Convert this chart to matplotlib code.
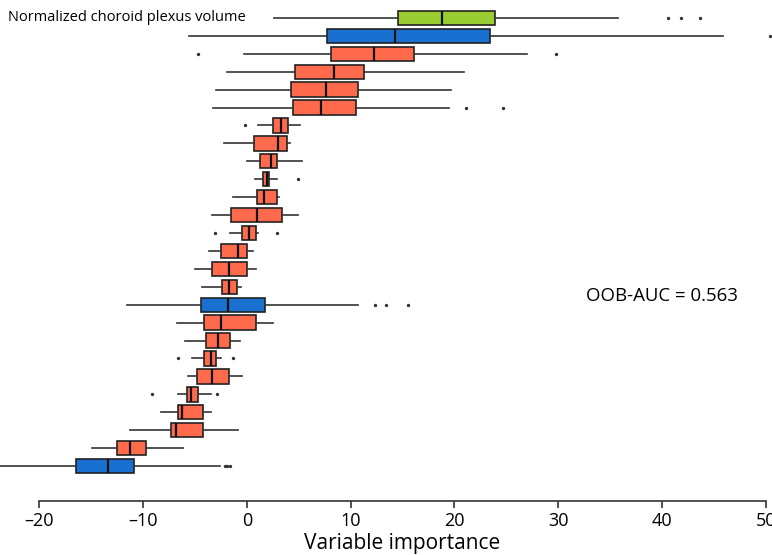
import matplotlib
matplotlib.use("Agg")
import matplotlib.pyplot as plt
import matplotlib.transforms as mtransforms

# box stats per row, top to bottom: whisker low, q1, median, q3, whisker high
whislo = [2.6, -5.6, -0.3, -1.9, -3.0, -3.3, 1.1, -2.2, 0.0, 0.8, -1.35, -3.35, -1.6,
          -3.7, -5.0, -4.3, -11.6, -6.75, -6.0, -5.25, -5.7, -6.6, -8.3, -11.3, -14.9, -23.8]
q1 = [14.6, 7.7, 8.1, 4.6, 4.2, 4.4, 2.5, 0.7, 1.25, 1.5, 0.95, -1.55, -0.45,
      -2.5, -3.35, -2.4, -4.45, -4.1, -3.95, -4.1, -4.8, -5.8, -6.6, -7.35, -12.55, -16.5]
med = [18.8, 14.3, 12.2, 8.4, 7.6, 7.1, 3.25, 3.0, 2.35, 1.9, 1.65, 1.0, 0.15,
       -0.9, -1.75, -1.7, -1.85, -2.5, -2.75, -3.45, -3.4, -5.4, -6.3, -6.8, -11.3, -13.4]
q3 = [23.9, 23.4, 16.1, 11.3, 10.7, 10.5, 4.0, 3.9, 2.85, 2.15, 2.9, 3.4, 0.85,
      0.0, 0.0, -1.0, 1.7, 0.85, -1.65, -3.0, -1.75, -4.75, -4.25, -4.25, -9.7, -10.85]
whishi = [35.8, 45.9, 27.0, 20.9, 19.7, 19.5, 5.1, 4.1, 5.3, 2.9, 3.1, 4.95, 1.1,
          0.55, 0.85, -0.6, 10.7, 2.55, -0.7, -2.5, -0.5, -3.45, -3.45, -0.9, -6.2, -2.6]
fliers = [[40.6, 41.8, 43.7], [50.4], [-4.75, 29.8], [], [], [21.1, 24.7],
          [-0.15], [], [], [4.9], [], [], [-3.05, 2.9],
          [], [], [], [12.3, 13.4, 15.5], [], [], [-6.65, -1.3], [],
          [-9.15, -2.9], [], [], [], [-2.1, -1.9, -1.65]]
groups = ["g", "b"] + ["r"] * 14 + ["b"] + ["r"] * 8 + ["b"]

colors = {"g": "#9ACD32", "b": "#1A70D0", "r": "#FF6A4D"}
top_label = "Normalized choroid plexus volume"
auc_text = "OOB-AUC = 0.563"

plt.rcParams['font.family'] = ['Open Sans', 'DejaVu Sans']

fig = plt.figure(figsize=(7.72, 5.55), dpi=100)
ax = fig.add_axes([0, 54 / 555, 1, 1 - 54 / 555])

stats = []
for i in range(len(med)):
    stats.append({"whislo": whislo[i], "q1": q1[i], "med": med[i],
                  "q3": q3[i], "whishi": whishi[i], "fliers": fliers[i]})

positions = list(range(1, len(med) + 1))
bp = ax.bxp(stats, positions=positions, vert=False, widths=0.8, patch_artist=True,
            showcaps=False,
            boxprops=dict(edgecolor="#222222", linewidth=1.2),
            medianprops=dict(color="#111111", linewidth=1.6),
            whiskerprops=dict(color="#333333", linewidth=1.2),
            flierprops=dict(marker="o", markersize=1.4, markerfacecolor="#333333",
                            markeredgecolor="#333333"))
for patch, g in zip(bp["boxes"], groups):
    patch.set_facecolor(colors[g])

ax.set_xlim(-23.8, 50.6)
ax.set_ylim(27.95, 0.0)
ax.set_yticks([])
for s in ["left", "right", "top"]:
    ax.spines[s].set_visible(False)
ax.spines["bottom"].set_bounds(-20, 50)
ax.spines["bottom"].set_linewidth(1.2)
ax.spines["bottom"].set_color("#333333")
ax.set_xticks(range(-20, 51, 10))
ax.set_xticklabels(["\u201320", "\u201310", "0", "10", "20", "30", "40", "50"])
ax.tick_params(axis="x", labelsize=13, length=5, width=1.2, color="#333333", pad=3)

ax.set_xlabel("Variable importance", fontsize=15, labelpad=2)
ax.xaxis.label.set_x((15 + 23.8) / (50.6 + 23.8))

trans = mtransforms.blended_transform_factory(ax.transAxes, ax.transData)
ax.text(8 / 772, 1, top_label, transform=trans, fontsize=10.5, va="center", ha="left")
ax.text(32.7, 16.5, auc_text, fontsize=13.4, va="center", ha="left")

fig.savefig("out.png", dpi=100)
